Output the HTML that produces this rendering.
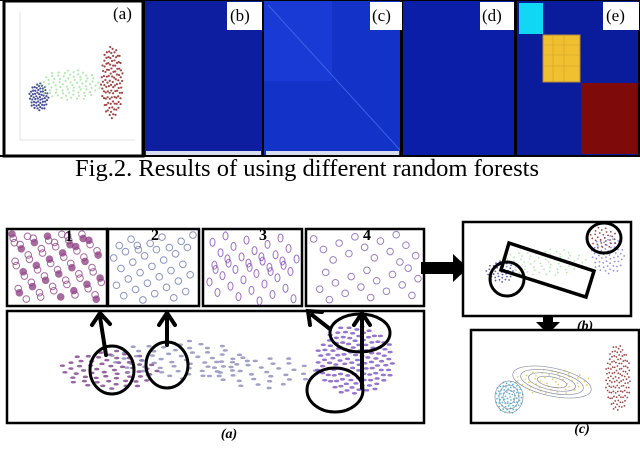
<!DOCTYPE html>
<html><head><meta charset="utf-8"><style>
html,body{margin:0;padding:0;background:#fff;}
svg{display:block;font-family:"Liberation Serif",serif;}
</style></head><body>
<svg id="fig" width="640" height="463" viewBox="0 0 640 463" xmlns="http://www.w3.org/2000/svg">
<!-- Top row -->
<g>
  <rect x="4" y="1" width="139" height="155" fill="#fff" stroke="#000" stroke-width="3"/>
  <g stroke="#ccc" stroke-width="0.6"><line x1="20" y1="12" x2="20" y2="140"/><line x1="20" y1="140" x2="135" y2="140"/></g>
  <g id="scatA"></g>
  <rect x="144" y="1" width="119" height="155" fill="#0d1fa0"/>
  <rect x="146" y="151" width="115" height="5" fill="#d8dcef"/>
  <rect x="264" y="1" width="137" height="155" fill="#1232c8"/>
  <rect x="264" y="1" width="68" height="80" fill="#1a3ad6"/>
  <line x1="268" y1="5" x2="400" y2="150" stroke="#3a62e8" stroke-width="1"/>
  <rect x="266" y="151" width="133" height="5" fill="#d8dcef"/>
  <rect x="402" y="1" width="113" height="155" fill="#0b1ea8"/>
  <rect x="516" y="1" width="124" height="155" fill="#0a1c9c"/>
  <rect x="519" y="3" width="24" height="31" fill="#10d8f4"/>
  <rect x="543" y="35" width="37" height="47" fill="#f0c030" stroke="#b08a40"/>
  <g stroke="#c89428" stroke-width="0.6" opacity="0.7">
    <line x1="543" y1="45" x2="580" y2="45"/><line x1="543" y1="55" x2="580" y2="55"/><line x1="543" y1="66" x2="580" y2="66"/>
    <line x1="553" y1="35" x2="553" y2="82"/><line x1="564" y1="35" x2="564" y2="82"/>
  </g>
  <rect x="581" y="83" width="56" height="71" fill="#7e0a0a"/>
  <rect x="143" y="0" width="2" height="157" fill="#000"/><rect x="262" y="0" width="2" height="157" fill="#000"/>
  <rect x="400" y="0" width="3" height="157" fill="#000"/><rect x="514" y="0" width="3" height="157" fill="#000"/>
  <rect x="0" y="155" width="640" height="2" fill="#000"/><rect x="0" y="0" width="640" height="1" fill="#000"/>
  <rect x="638" y="0" width="2" height="157" fill="#000"/>
  <g font-size="17">
    <text x="113" y="19">(a)</text>
    <rect x="227" y="2" width="35" height="28" fill="#fff"/><text x="230" y="21">(b)</text>
    <rect x="370" y="2" width="32" height="28" fill="#fff"/><text x="372" y="21">(c)</text>
    <rect x="480" y="2" width="34" height="28" fill="#fff"/><text x="482" y="21">(d)</text>
    <rect x="603" y="2" width="36" height="28" fill="#fff"/><text x="606" y="21">(e)</text>
  </g>
  <text x="307" y="176" font-size="24" text-anchor="middle" textLength="464" lengthAdjust="spacingAndGlyphs">Fig.2. Results of using different random forests</text>
</g>
<!-- Bottom -->
<g>
  <g id="zooms"></g>
  <rect x="7" y="311" width="417" height="112" fill="none" stroke="#000" stroke-width="2.5"/>
  <g id="scatMain"></g>
  <g fill="none" stroke="#000" stroke-width="3">
    <ellipse cx="112" cy="370" rx="22" ry="24"/><ellipse cx="167" cy="365" rx="21" ry="23"/>
    <ellipse cx="360" cy="333" rx="30" ry="19"/><ellipse cx="335" cy="390" rx="28" ry="22"/>
  </g>
  <g stroke="#000" stroke-width="4" fill="none" stroke-linecap="round">
    <path d="M106 355 L100 317 M92 325 L100 313 L110 324"/>
    <path d="M167 345 L167 317 M159 325 L167 313 L175 325"/>
    <path d="M330 329 L312 315 M310 325 L308 311 L322 312"/>
    <path d="M362 388 L362 315 M354 325 L362 313 L370 325"/>
  </g>
  <g font-size="16" font-weight="bold">
    <text x="65" y="241">1</text><text x="151" y="240">2</text><text x="259" y="240">3</text><text x="363" y="240">4</text>
  </g>
  <text x="229" y="438" font-size="14" font-style="italic" font-weight="bold" text-anchor="middle">(a)</text>
  <path d="M421 262 L453 262 L453 254 L468 268 L453 282 L453 274 L421 274 Z" fill="#000"/>
  <path d="M543 315 L553 315 L553 322 L560 322 L548 334 L536 322 L543 322 Z" fill="#000"/>
  <rect x="463" y="222" width="168" height="94" fill="#fff" stroke="#000" stroke-width="2.5"/>
  <g id="scatB"></g>
  <polygon points="509,243 594,271 586,297 501,270" fill="none" stroke="#000" stroke-width="3.5"/>
  <ellipse cx="507" cy="279" rx="17" ry="17" fill="none" stroke="#000" stroke-width="3"/>
  <ellipse cx="604" cy="238" rx="17" ry="15" fill="none" stroke="#000" stroke-width="3"/>
  <text x="585" y="330" font-size="14" font-style="italic" font-weight="bold" text-anchor="middle">(b)</text>
  <rect x="471" y="330" width="168" height="93" fill="#fff" stroke="#000" stroke-width="2.5"/>
  <g id="scatC"></g>
  <g fill="none" stroke="#8890a0" stroke-width="0.7">
    <ellipse cx="552" cy="382" rx="40" ry="14" transform="rotate(12 552 382)"/>
    <ellipse cx="552" cy="382" rx="32" ry="11" transform="rotate(12 552 382)"/>
    <ellipse cx="552" cy="382" rx="24" ry="8" transform="rotate(12 552 382)"/>
    <ellipse cx="552" cy="382" rx="15" ry="5" transform="rotate(12 552 382)"/>
    <ellipse cx="509" cy="397" rx="14" ry="16"/><ellipse cx="509" cy="397" rx="10" ry="12"/><ellipse cx="509" cy="397" rx="6" ry="7"/>
  </g>
  <text x="582" y="433" font-size="14" font-style="italic" font-weight="bold" text-anchor="middle">(c)</text>
</g>
</svg>
<script>
const NS="http://www.w3.org/2000/svg";
// cluster specs: [cx, cy, sx, sy, count, color]
const clustersA=[[39,97,7,10,60,"#1a237e"],[70,85,22,11,80,"#9fe39a"],[112,82,8,26,110,"#8b1a1a"]];
const clustersB=[[500,272,10,8,40,"#2d3aa0"],[545,262,30,10,70,"#9fe39a"],[608,255,12,14,60,"#6e78d8"],[603,238,10,8,30,"#8b1a1a"]];
const clustersC=[[509,397,10,12,70,"#30a8d8"],[552,382,28,9,50,"#e8c040"],[618,378,9,24,120,"#8b1a1a"]];
const clustersMain=[[110,370,35,14,60,"#7a3d8a"],[180,360,50,14,60,"#8a88b8"],[260,372,40,12,35,"#8a88b8"],[355,360,28,25,120,"#7a52c0"]];
function gen(g,cl,rx,ry){
  cl.forEach(c=>{
    for(let i=0;i<c[4];i++){
      const a=i*2.39996, d=Math.sqrt((i+0.5)/c[4]);
      const e=document.createElementNS(NS,"ellipse");
      
      
      e.setAttribute("cx",c[0]+Math.cos(a)*d*c[2]*1.4);
      e.setAttribute("cy",c[1]+Math.sin(a)*d*c[3]*1.4);
      e.setAttribute("rx",rx);e.setAttribute("ry",ry);e.setAttribute("fill",c[5]);e.setAttribute("opacity","0.8");
      g.appendChild(e);
    }
  });
}
gen(document.getElementById("scatA"),clustersA,1.1,1.1);
gen(document.getElementById("scatB"),clustersB,0.9,0.9);
gen(document.getElementById("scatC"),clustersC,0.9,0.9);
gen(document.getElementById("scatMain"),clustersMain,2.6,1.3);
const boxes=[[7,229,100,77,"#8a3a80",70],[108,229,91,77,"#6670a8",35],[203,229,99,77,"#7a40b8",40],[306,229,118,77,"#7a55b0",30]];
const zg=document.getElementById("zooms");
boxes.forEach((b,k)=>{
  const r=document.createElementNS(NS,"rect");
  
  
  r.setAttribute("x",b[0]);r.setAttribute("y",b[1]);r.setAttribute("width",b[2]);r.setAttribute("height",b[3]);
  r.setAttribute("fill","#fff");r.setAttribute("stroke","#000");r.setAttribute("stroke-width","2.5");
  zg.appendChild(r);
  for(let i=0;i<b[5];i++){
    const fx=((i*0.618034+k*0.3)%1), fy=((i*0.381966*2.7+k*0.17)%1);
    const c=document.createElementNS(NS,"ellipse");
    
    
    c.setAttribute("cx",b[0]+5+fx*(b[2]-10));c.setAttribute("cy",b[1]+5+fy*(b[3]-10));
    c.setAttribute("rx",k==2?2.5:3.3);c.setAttribute("ry",k==2?4:3.3);
    c.setAttribute("fill",k==0&&i%3==0?b[4]:"none");c.setAttribute("stroke",b[4]);c.setAttribute("stroke-width","1");c.setAttribute("opacity","0.75");
    zg.appendChild(c);
  }
});
</script>
</body></html>
